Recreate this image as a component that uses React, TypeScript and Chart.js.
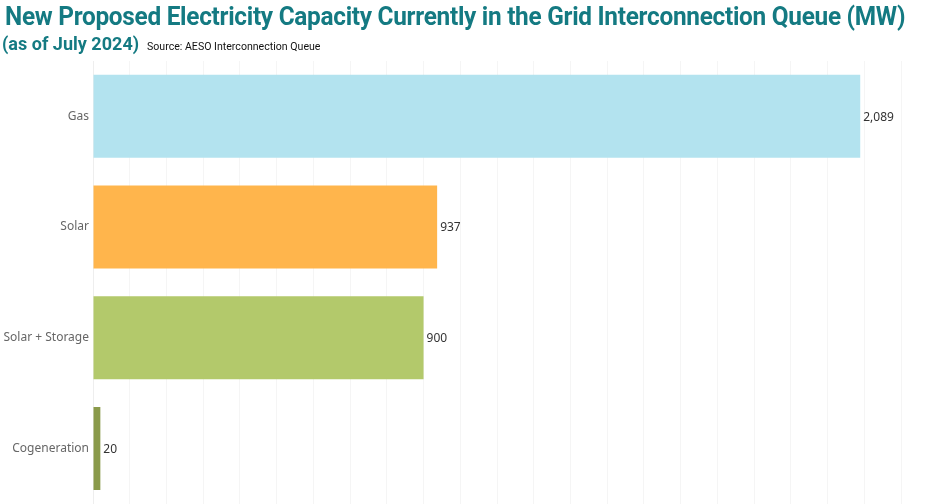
import React, { useEffect, useRef } from "react";
import { Chart, registerables } from "chart.js";

Chart.register(...registerables);

const categories = ["Gas", "Solar", "Solar + Storage", "Cogeneration"];
const capacityMW = [2089, 937, 900, 20];
const barColors = ["#b3e3ef", "#ffb54c", "#b3c96b", "#8a9a4a"];
const titleText = "New Proposed Electricity Capacity Currently in the Grid Interconnection Queue (MW)";
const subtitleText = "(as of July 2024)";
const sourceText = "Source: AESO Interconnection Queue";

const valueLabels = {
  id: "valueLabels",
  afterDatasetsDraw(chart: any) {
    const ctx = chart.ctx;
    const meta = chart.getDatasetMeta(0);
    ctx.save();
    ctx.font = "12px 'Noto Sans'";
    ctx.fillStyle = "#333333";
    ctx.textAlign = "left";
    ctx.textBaseline = "middle";
    meta.data.forEach((bar: any, i: number) => {
      const v = capacityMW[i];
      ctx.fillText(v.toLocaleString("en-US"), bar.x + 3, bar.y + 1);
    });
    ctx.restore();
  },
};

export default function App() {
  const ref = useRef<HTMLCanvasElement>(null);
  useEffect(() => {
    document.body.style.margin = "0";
    const chart = new Chart(ref.current!, {
      type: "bar",
      data: {
        labels: categories,
        datasets: [
          {
            data: capacityMW,
            backgroundColor: barColors,
            categoryPercentage: 0.75,
            barPercentage: 1,
          },
        ],
      },
      plugins: [valueLabels],
      options: {
        indexAxis: "y",
        animation: false,
        responsive: false,
        layout: { padding: { top: 61, right: 35, bottom: 0, left: 0 } },
        plugins: { legend: { display: false }, tooltip: { enabled: false } },
        scales: {
          x: {
            min: 0,
            max: 2200,
            ticks: { display: false, stepSize: 100 },
            grid: { color: "#f5f5f5", drawTicks: false },
            border: { display: false },
            afterFit: (s: any) => {
              s.height = 0;
            },
          },
          y: {
            ticks: {
              color: "#666666",
              font: { family: "'Noto Sans'", size: 12 },
              padding: 4,
            },
            grid: { display: false, drawTicks: false },
            border: { color: "#eeeeee" },
            afterFit: (s: any) => {
              s.width = 93;
            },
          },
        },
      },
    });
    return () => chart.destroy();
  }, []);

  return (
    <div style={{ position: "relative", width: 936, height: 504, background: "#fff", overflow: "hidden" }}>
      <canvas ref={ref} width={936} height={515} style={{ position: "absolute", left: 0, top: 0 }} />
      <div
        style={{
          position: "absolute",
          left: 5,
          top: 2,
          fontFamily: "Roboto",
          fontWeight: 700,
          fontSize: 25,
          color: "#147a82",
          whiteSpace: "nowrap",
          transform: "scaleX(0.976)",
          transformOrigin: "left top",
          letterSpacing: -0.3,
        }}
      >
        {titleText}
      </div>
      <div
        style={{
          position: "absolute",
          left: 2,
          top: 33,
          whiteSpace: "nowrap",
          fontFamily: "Roboto",
          fontWeight: 700,
          fontSize: 18.5,
          color: "#147a82",
          transform: "scaleX(0.975)",
          transformOrigin: "left top",
        }}
      >
        {subtitleText}
      </div>
      <div
        style={{
          position: "absolute",
          left: 147,
          top: 39,
          whiteSpace: "nowrap",
          fontFamily: "Roboto",
          fontSize: 11.5,
          color: "#111",
          transform: "scaleX(0.92)",
          transformOrigin: "left top",
        }}
      >
        {sourceText}
      </div>
    </div>
  );
}
